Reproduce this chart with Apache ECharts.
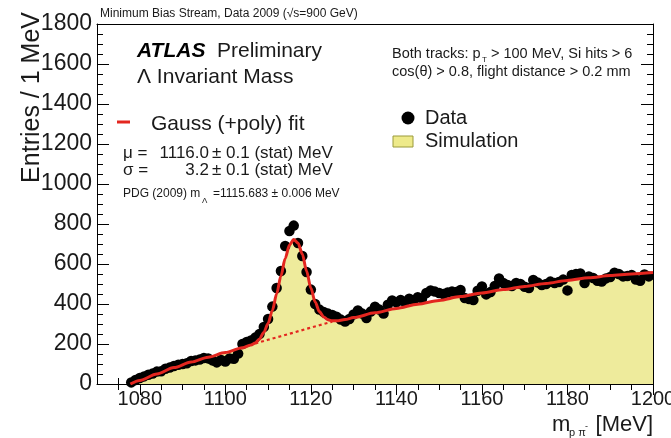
<!DOCTYPE html>
<html><head><meta charset="utf-8">
<script src="https://cdn.jsdelivr.net/npm/echarts@6/dist/echarts.min.js"></script>
<style>html,body{margin:0;padding:0;background:#fff}#c{width:671px;height:438px}</style>
</head><body><div id="c"></div>
<script>
// ---- data ----
const binStart = 1078;   // centre of first 1 MeV bin
const binWidth = 1;
const dataEntries = [
  8,20,30,38,46,52,62,64,76,82,
  90,96,100,104,115,118,122,130,128,118,
  108,120,112,128,126,152,200,210,218,232,
  250,285,325,387,480,565,690,765,792,705,
  640,560,472,400,372,360,352,345,336,322,
  312,325,348,368,352,330,362,386,372,352,
  396,418,408,420,410,426,418,434,428,455,
  468,462,455,450,458,462,460,470,430,425,
  420,466,488,448,460,490,528,505,495,490,
  505,500,486,480,520,508,495,500,512,505,
  510,522,468,545,550,553,505,538,530,516,
  512,528,535,556,550,538,540,545,522,516,
  548,538
];
const simMass    = [1077.8,1080,1084,1088,1092,1096,1100,1104,1106,1108,1110,1111,1112,1113,1114,1115,1116,1117,1118,1119,1120,1121,1122,1123,1124,1126,1128,1130,1135,1140,1145,1150,1155,1160,1165,1170,1175,1180,1185,1190,1195,1200];
const simEntries = [0,18,48,80,108,130,152,178,192,215,290,360,440,530,620,690,720,700,640,550,460,390,350,325,315,312,318,328,350,375,398,418,435,452,468,485,500,515,528,540,548,555];
const fitMass    = [1077.8,1080,1084,1088,1092,1096,1100,1104,1106,1107,1108,1109,1110,1111,1112,1113,1114,1115,1116,1117,1118,1119,1120,1121,1122,1123,1124,1125,1126,1128,1130,1135,1140,1145,1150,1155,1160,1165,1170,1175,1180,1185,1190,1195,1200];
const fitEntries = [0,18,50,82,110,134,157,181,195,205,225,258,303,368,450,540,628,695,722,705,650,565,480,410,362,335,321,316,316,322,332,356,378,399,418,437,455,472,488,503,518,531,542,550,557];
const bkgMass    = [1107,1110,1113,1116,1119,1122,1125];
const bkgEntries = [203,221,239,257,276,294,312];
const xMajorTicks = [1080,1100,1120,1140,1160,1180,1200];
const xMinorTicks = [1075,1085,1090,1095,1105,1110,1115,1125,1130,1135,1145,1150,1155,1165,1170,1175,1185,1190,1195];

// ---- chart ----
const F = "'Liberation Sans', Arial, Helvetica, sans-serif";
const TXT = '#1a1a1a';
const RED = '#e3261f';
const PW = 556, PH = 360;
const pairs = (xs, ys) => xs.map((x, i) => [x, ys[i]]);
const dataPts = dataEntries.map((v, i) => [binStart + i * binWidth, v]);

function xAx(pos, offset, o) {
  return Object.assign({type:'value', min:1070, max:1200, position:pos, offset:offset,
    splitLine:{show:false}, axisLine:{show:false}, axisTick:{show:false}, axisLabel:{show:false}}, o);
}
function yAx(pos, offset, o) {
  return Object.assign({type:'value', min:0, max:1800, interval:200, position:pos, offset:offset,
    splitLine:{show:false}, axisLine:{show:false}, axisTick:{show:false}, axisLabel:{show:false}}, o);
}
const line = () => ({show:true, onZero:false, lineStyle:{color:'#000', width:1}});
const tk = (len, vals) => {
  const t = {show:true, inside:false, length:len, lineStyle:{color:'#000', width:1}};
  if (vals) t.customValues = vals;
  return t;
};

const chart = echarts.init(document.getElementById('c'), null, {renderer:'canvas'});
chart.setOption({
  animation:false,
  backgroundColor:'#fff',
  grid:{left:97, top:24, width:PW, height:PH, containLabel:false, outerBoundsMode:'none'},
  xAxis:[
    xAx('bottom', 0, {axisLine:line(),
      axisLabel:{show:true, customValues:xMajorTicks, fontSize:20, color:TXT, fontFamily:F, margin:5, formatter:v => String(v), hideOverlap:false}}),
    xAx('top', -PH, {axisTick:tk(11, xMajorTicks)}),      // ticks pointing up from bottom edge
    xAx('top', -PH, {axisTick:tk(6, xMinorTicks)}),
    xAx('top', 0, {axisLine:line()}),
    xAx('bottom', -PH, {axisTick:tk(11, xMajorTicks)}),   // ticks pointing down from top edge
    xAx('bottom', -PH, {axisTick:tk(6, xMinorTicks)})
  ],
  yAxis:[
    yAx('left', 0, {axisLine:line(),
      axisLabel:{show:true, fontSize:23, color:TXT, fontFamily:F, margin:5, formatter:v => String(v)}}),
    yAx('right', -PW, {axisTick:tk(12), minorTick:{show:true, splitNumber:4, length:6, lineStyle:{color:'#000', width:1}}}),
    yAx('right', 0, {axisLine:line()}),
    yAx('left', -PW, {axisTick:tk(12), minorTick:{show:true, splitNumber:4, length:6, lineStyle:{color:'#000', width:1}}})
  ],
  series:[
    {name:'Simulation', type:'line', data:pairs(simMass, simEntries), showSymbol:false, smooth:0.2,
     lineStyle:{width:0}, areaStyle:{color:'#eeeb9c', opacity:1}, z:1, silent:true},
    {name:'Background', type:'line', data:pairs(bkgMass, bkgEntries), showSymbol:false,
     lineStyle:{color:RED, width:2.2, type:[3,3]}, z:4, silent:true},
    {name:'Data', type:'scatter', data:dataPts, symbol:'circle', symbolSize:10.5,
     itemStyle:{color:'#000', opacity:1, borderWidth:0}, z:3, silent:true},
    {name:'Fit', type:'line', data:pairs(fitMass, fitEntries), showSymbol:false, smooth:0.3, smoothMonotone:'x',
     lineStyle:{color:RED, width:3}, z:5, silent:true}
  ],
  graphic:[
    {type:'text', x:32, y:12, rotation:Math.PI/2, style:{text:'Entries / 1 MeV', font:'25px '+F, fill:TXT, align:'right', verticalAlign:'middle'}},
    {type:'text', x:100, y:14, style:{text:'Minimum Bias Stream, Data 2009 (√s=900 GeV)', font:'12px '+F, fill:TXT, align:'left', verticalAlign:'middle'}},
    {type:'text', x:137, y:51, style:{text:'ATLAS', font:'italic bold 21px '+F, fill:'#000', align:'left', verticalAlign:'middle'}},
    {type:'text', x:217, y:51, style:{text:'Preliminary', font:'21px '+F, fill:TXT, align:'left', verticalAlign:'middle'}},
    {type:'text', x:137, y:77, style:{text:'Λ Invariant Mass', font:'21px '+F, fill:TXT, align:'left', verticalAlign:'middle'}},
    {type:'line', shape:{x1:117, y1:122, x2:130, y2:122}, style:{stroke:RED, lineWidth:3}},
    {type:'text', x:151, y:124, style:{text:'Gauss (+poly) fit', font:'21px '+F, fill:TXT, align:'left', verticalAlign:'middle'}},
    {type:'text', x:123, y:153, style:{text:'μ =', font:'17px '+F, fill:TXT, align:'left', verticalAlign:'middle'}},
    {type:'text', x:209, y:153, style:{text:'1116.0', font:'17px '+F, fill:TXT, align:'right', verticalAlign:'middle'}},
    {type:'text', x:212, y:153, style:{text:'± 0.1 (stat) MeV', font:'17px '+F, fill:TXT, align:'left', verticalAlign:'middle'}},
    {type:'text', x:123, y:170, style:{text:'σ =', font:'17px '+F, fill:TXT, align:'left', verticalAlign:'middle'}},
    {type:'text', x:209, y:170, style:{text:'3.2', font:'17px '+F, fill:TXT, align:'right', verticalAlign:'middle'}},
    {type:'text', x:212, y:170, style:{text:'± 0.1 (stat) MeV', font:'17px '+F, fill:TXT, align:'left', verticalAlign:'middle'}},
    {type:'text', x:123, y:194, style:{text:'PDG (2009) m', font:'12px '+F, fill:TXT, align:'left', verticalAlign:'middle'}},
    {type:'text', x:202, y:201, style:{text:'Λ', font:'8px '+F, fill:TXT, align:'left', verticalAlign:'middle'}},
    {type:'text', x:213, y:194, style:{text:'=1115.683 ± 0.006 MeV', font:'12px '+F, fill:TXT, align:'left', verticalAlign:'middle'}},
    {type:'text', x:392, y:54, style:{text:'Both tracks: p', font:'14.5px '+F, fill:TXT, align:'left', verticalAlign:'middle'}},
    {type:'text', x:482, y:60, style:{text:'T', font:'8px '+F, fill:TXT, align:'left', verticalAlign:'middle'}},
    {type:'text', x:491, y:54, style:{text:'> 100 MeV, Si hits > 6', font:'14.5px '+F, fill:TXT, align:'left', verticalAlign:'middle'}},
    {type:'text', x:392, y:72, style:{text:'cos(θ) > 0.8, flight distance > 0.2 mm', font:'14.5px '+F, fill:TXT, align:'left', verticalAlign:'middle'}},
    {type:'circle', shape:{cx:408, cy:118, r:6.5}, style:{fill:'#000'}},
    {type:'text', x:425, y:118, style:{text:'Data', font:'20px '+F, fill:TXT, align:'left', verticalAlign:'middle'}},
    {type:'rect', shape:{x:393, y:136, width:20, height:11}, style:{fill:'#eeea8a', stroke:'#9a9a3a', lineWidth:1}},
    {type:'text', x:425, y:141, style:{text:'Simulation', font:'20px '+F, fill:TXT, align:'left', verticalAlign:'middle'}},
    {type:'text', x:552, y:425, style:{text:'m', font:'22px '+F, fill:TXT, align:'left', verticalAlign:'middle'}},
    {type:'text', x:569, y:433, style:{text:'p π', font:'11px '+F, fill:TXT, align:'left', verticalAlign:'middle'}},
    {type:'text', x:585, y:427, style:{text:'-', font:'9px '+F, fill:TXT, align:'left', verticalAlign:'middle'}},
    {type:'text', x:653, y:425, style:{text:'[MeV]', font:'22px '+F, fill:TXT, align:'right', verticalAlign:'middle'}}
  ]
});
</script></body></html>
